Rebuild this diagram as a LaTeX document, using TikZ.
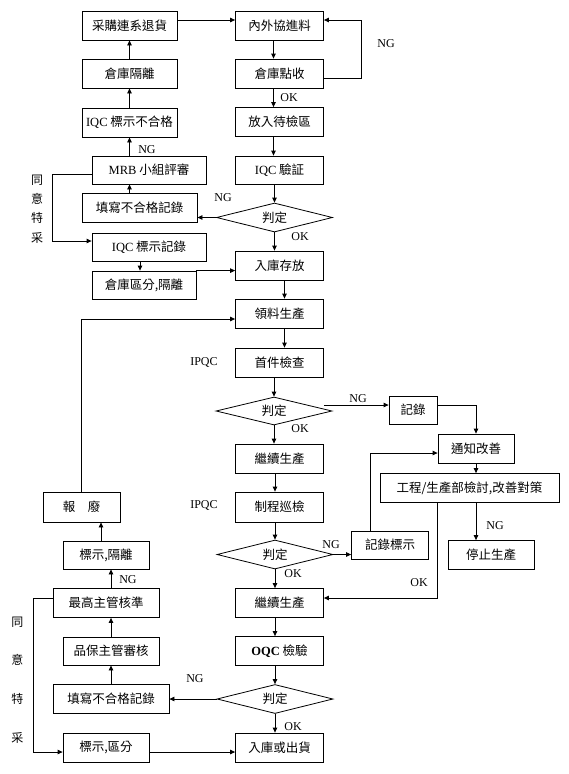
\documentclass[tikz,border=0pt]{standalone}
\usepackage{fontspec}
\setmainfont{Liberation Serif}
\newfontfamily\cjk{Noto Sans CJK TC}
\usetikzlibrary{shapes.geometric,arrows.meta}
\newcommand\lat[1]{{\rmfamily #1}}

\begin{document}
\begin{tikzpicture}[
    x=1pt, y=-1pt,
    every node/.style={font=\fontsize{12}{14}\selectfont},
    tag/.style={inner sep=0pt},
    unit/.style={
        draw,
        line width=0.8pt,
        inner sep=0pt,
        align=center,
        font=\cjk\fontsize{12.5}{14}\selectfont,
        minimum width=88pt,
        minimum height=29pt
    },
    check/.style={unit, diamond, aspect=4, minimum width=116pt},
    arr/.style={-{Triangle[length=5pt,width=4.5pt]}, line width=0.8pt}
]
    \useasboundingbox (0,0) rectangle (568,774);

    % Incoming material, left side
    \node[unit, minimum width=95pt] (buyBack) at (129.5, 25.5) {采購連系退貨};
    \node[unit, minimum width=95pt] (isoA) at (129.5, 73.5) {倉庫隔離};
    \node[unit, minimum width=95pt] (ngMark) at (129.5, 122.5) {\lat{IQC} 標示不合格};
    \node[unit, minimum width=114pt, minimum height=28pt] (mrb) at (149, 170) {\lat{MRB} 小組評審};
    \node[unit, minimum width=115pt] (recA) at (139.5, 207.5) {填寫不合格記錄};
    \node[unit, minimum width=114pt, minimum height=28pt] (markA) at (149, 247) {\lat{IQC} 標示記錄};
    \node[unit, minimum width=104pt, minimum height=28pt] (sepA) at (144, 285) {倉庫區分,隔離};
    \node[tag, align=center, font=\cjk\fontsize{12}{19.3}\selectfont] (agreeA) at (37, 209) {同\\意\\特\\采};

    % Incoming material, main line
    \node[unit] (inA) at (279.5, 25.5) {內外協進料};
    \node[unit] (chk) at (279.5, 73.5) {倉庫點收};
    \node[unit] (waitA) at (279.5, 122) {放入待檢區};
    \node[unit, minimum height=28pt] (iqc) at (279.5, 170) {\lat{IQC} 驗証};
    \node[check] (judgeA) at (274.5, 217.5) {判定};
    \node[unit] (store) at (279.5, 265.5) {入庫存放};
    \node[unit] (pick) at (279.5, 313.5) {領料生產};

    % In-process inspection
    \node[unit] (first) at (279.5, 362.5) {首件檢查};
    \node[check, minimum height=28pt] (judgeB) at (274, 411) {判定};
    \node[unit] (contA) at (279.5, 458.5) {繼續生產};
    \node[unit, minimum height=30pt] (patrol) at (279.5, 507) {制程巡檢};
    \node[check] (judgeC) at (275, 554.5) {判定};
    \node[unit] (contB) at (279.5, 603) {繼續生產};

    % Corrective action, right side
    \node[unit, minimum width=48pt, minimum height=28pt] (recB) at (413, 410) {記錄};
    \node[unit, minimum width=76pt] (notify) at (476, 448.5) {通知改善};
    \node[unit, minimum width=179pt] (eng) at (469.5, 488) {工程/生產部檢討,改善對策};
    \node[unit, minimum width=77pt, minimum height=28pt] (markB) at (390, 545) {記錄標示};
    \node[unit, minimum width=86pt] (stop) at (491, 555) {停止生產};

    % Outgoing inspection
    \node[unit] (oqc) at (279.5, 651) {\lat{\bfseries OQC} 檢驗};
    \node[check] (judgeD) at (275, 699) {判定};
    \node[unit] (outA) at (279.5, 747.5) {入庫或出貨};

    % Rejects, bottom left
    \node[unit, minimum width=77pt, minimum height=30pt] (scrap) at (81.5, 507) {報　廢};
    \node[unit, minimum width=86pt, minimum height=28pt] (markC) at (106, 555) {標示,隔離};
    \node[unit, minimum width=106pt] (topBoss) at (106, 603) {最高主管核準};
    \node[unit, minimum width=96pt, minimum height=28pt] (audit) at (111, 651) {品保主管審核};
    \node[unit, minimum width=116pt] (recC) at (111, 699) {填寫不合格記錄};
    \node[unit, minimum width=86pt] (markD) at (106, 747.5) {標示,區分};
    \node[tag, align=center, font=\cjk\fontsize{12}{38.7}\selectfont] (agreeB) at (17.5, 680) {同\\意\\特\\采};

    % Labels
    \node[tag] (ngA) at (386, 44) {NG};
    \node[tag] (okA) at (289, 98) {OK};
    \node[tag] (ngB) at (147, 150) {NG};
    \node[tag] (ngC) at (223, 198) {NG};
    \node[tag] (okB) at (300, 237) {OK};
    \node[tag] (ipqcA) at (204, 362) {IPQC};
    \node[tag] (ngD) at (358, 399) {NG};
    \node[tag] (okC) at (300, 429) {OK};
    \node[tag] (ipqcB) at (204, 505) {IPQC};
    \node[tag] (ngE) at (495, 526) {NG};
    \node[tag] (ngF) at (331, 545) {NG};
    \node[tag] (okD) at (293, 574) {OK};
    \node[tag] (okE) at (419, 583) {OK};
    \node[tag] (ngG) at (128, 580) {NG};
    \node[tag] (ngH) at (195, 679) {NG};
    \node[tag] (okF) at (293, 727) {OK};

    % Left chain arrows
    \draw[arr] (isoA.north) -- (buyBack.south);
    \draw[arr] (ngMark.north) -- (isoA.south);
    \draw[arr] (mrb.north -| ngMark.south) -- (ngMark.south);
    \draw[arr] (recA.north -| ngMark.south) -- (mrb.south -| ngMark.south);
    \draw[arr] ([xshift=-9pt]markA.south) -- ([xshift=-9pt]markA.south |- sepA.north);
    \draw[arr] ([yshift=-4pt]mrb.west) -- ++(-39,0) |- ([yshift=6pt]markA.west);
    \draw[arr] (sepA.north east) -- (sepA.north east -| store.west);
    \draw[arr] ([yshift=5.5pt]buyBack.east) -- ([yshift=5.5pt]inA.west);

    % Main line arrows
    \draw[arr] ([xshift=-6pt]inA.south) -- ([xshift=-6pt]chk.north);
    \draw[arr] ([xshift=-6pt]chk.south) -- ([xshift=-6pt]waitA.north);
    \draw[arr] ([xshift=-6pt]waitA.south) -- ([xshift=-6pt]iqc.north);
    \draw[arr] ([yshift=-4.5pt]chk.east) -- ++(37,0) |- ([yshift=5.5pt]inA.east);
    \draw[arr] (iqc.south -| judgeA.north) -- (judgeA.north);
    \draw[arr] (judgeA.west) -- (judgeA.west -| recA.east);
    \draw[arr] (judgeA.south) -- (judgeA.south |- store.north);
    \draw[arr] ([xshift=5pt]store.south) -- ([xshift=5pt]pick.north);
    \draw[arr] ([xshift=5pt]pick.south) -- ([xshift=5pt]first.north);
    \draw[arr] (scrap.north) |- ([yshift=-5.5pt]pick.west);
    \draw[arr] (first.south -| judgeB.north) -- (judgeB.north);
    \draw[arr] ([yshift=5pt]recB.west -| first.east) -- ([yshift=5pt]recB.west);
    \draw[arr] ([yshift=5pt]recB.east) -| (notify.north);
    \draw[arr] (judgeB.south) -- (judgeB.south |- contA.north);
    \draw[arr] (contA.south -| judgeC.north) -- (judgeC.north |- patrol.north);
    \draw[arr] (patrol.south -| judgeC.north) -- (judgeC.north);
    \draw[arr] (judgeC.east) -- (judgeC.east -| markB.west);
    \draw[arr] ([xshift=-20pt]markB.north) |- ([yshift=-4.5pt]notify.west);
    \draw[arr] (notify.south) -- (notify.south |- eng.north);
    \draw[arr] (eng.south -| notify.south) -- (stop.north -| notify.south);
    \draw[arr] ([xshift=-32pt]eng.south) |- ([yshift=5pt]contB.east);
    \draw[arr] (judgeC.south) -- (judgeC.south |- contB.north);
    \draw[arr] (contB.south -| judgeD.north) -- (judgeD.north |- oqc.north);
    \draw[arr] (oqc.south -| judgeD.north) -- (judgeD.north);
    \draw[arr] (judgeD.south) -- (judgeD.south |- outA.north);

    % Reject arrows
    \draw[arr] (judgeD.west) -- (judgeD.west -| recC.east);
    \draw[arr] (recC.north) -- (recC.north |- audit.south);
    \draw[arr] (audit.north) -- (audit.north |- topBoss.south);
    \draw[arr] (topBoss.north -| audit.north) -- (markC.south -| audit.north);
    \draw[arr] ([xshift=-5pt]markC.north) -- ([xshift=-5pt]markC.north |- scrap.south);
    \draw[arr] ([yshift=4.5pt]topBoss.west) -- ++(-19.5,0) |- ([yshift=-4.5pt]markD.west);
    \draw[arr] ([yshift=-4.5pt]markD.east) -- ([yshift=-4.5pt]outA.west);

\end{tikzpicture}
\end{document}
